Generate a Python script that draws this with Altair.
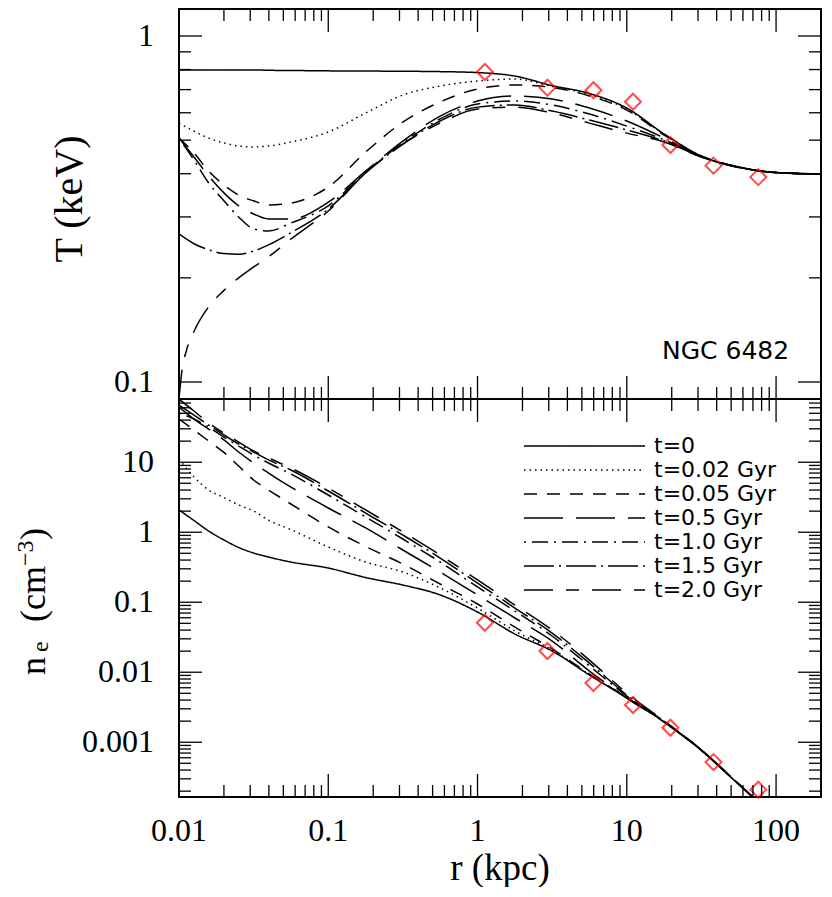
import altair as alt
import pandas as pd

labels = ["t=0", "t=0.02 Gyr", "t=0.05 Gyr", "t=0.5 Gyr", "t=1.0 Gyr", "t=1.5 Gyr", "t=2.0 Gyr"]

# radius grids (kpc)
r_grid = [0.01, 0.0126, 0.0158, 0.02, 0.0251, 0.0316, 0.0398, 0.0562, 0.1, 0.178, 0.316, 0.562,
          1.0, 1.78, 3.16, 5.62, 10.0, 17.8, 31.6, 56.2, 100.0, 200.0]
r_grid_t20 = [0.01, 0.0105, 0.0112, 0.0126, 0.0158, 0.02, 0.0251, 0.0316, 0.0398, 0.0562, 0.1, 0.178, 0.316,
              0.562, 1.0, 1.78, 3.16, 5.62, 10.0, 17.8, 31.6, 56.2, 100.0, 200.0]
r_grid_n = [0.01, 0.0126, 0.0158, 0.02, 0.0251, 0.0316, 0.0398, 0.0562, 0.1, 0.178, 0.316, 0.562,
            1.0, 1.78, 3.16, 5.62, 10.0, 17.8, 31.6, 56.2, 100.0]

# temperature profiles (keV)
T_t0 = [0.798, 0.798, 0.798, 0.798, 0.798, 0.798, 0.796, 0.795, 0.793, 0.792, 0.791, 0.789, 0.784, 0.766,
        0.719, 0.682, 0.619, 0.521, 0.45, 0.418, 0.403, 0.399]
T_t002 = [0.56, 0.531, 0.507, 0.491, 0.481, 0.478, 0.481, 0.494, 0.528, 0.599, 0.675, 0.717, 0.741, 0.751,
          0.715, 0.678, 0.615, 0.519, 0.45, 0.418, 0.403, 0.399]
T_t005 = [0.507, 0.459, 0.407, 0.371, 0.347, 0.334, 0.325, 0.329, 0.366, 0.462, 0.564, 0.645, 0.703, 0.722,
          0.71, 0.671, 0.611, 0.517, 0.45, 0.418, 0.403, 0.399]
T_t05 = [0.507, 0.447, 0.394, 0.352, 0.323, 0.306, 0.296, 0.296, 0.331, 0.407, 0.497, 0.587, 0.649, 0.671,
         0.658, 0.619, 0.568, 0.507, 0.448, 0.418, 0.403, 0.399]
T_t10 = [0.507, 0.438, 0.376, 0.334, 0.3, 0.277, 0.273, 0.288, 0.323, 0.405, 0.491, 0.576, 0.636, 0.649,
         0.632, 0.595, 0.549, 0.501, 0.447, 0.417, 0.403, 0.399]
T_t15 = [0.268, 0.251, 0.241, 0.235, 0.234, 0.239, 0.249, 0.27, 0.316, 0.402, 0.487, 0.568, 0.623, 0.632,
         0.607, 0.572, 0.535, 0.497, 0.447, 0.417, 0.403, 0.399]
T_t20 = [0.0895, 0.109, 0.123, 0.14, 0.165, 0.184, 0.2, 0.215, 0.23, 0.259, 0.312, 0.402, 0.487, 0.56,
         0.615, 0.623, 0.599, 0.56, 0.524, 0.494, 0.447, 0.417, 0.403, 0.399]

# electron density profiles (cm^-3)
n_t0 = [2.08, 1.47, 1.04, 0.774, 0.605, 0.505, 0.442, 0.375, 0.308, 0.225, 0.176, 0.127, 0.0724, 0.0351,
        0.0201, 0.00912, 0.00428, 0.00194, 0.000761, 0.000249, 8.26e-05]
n_t002 = [11.1, 6.15, 4.01, 3.13, 2.45, 2.01, 1.49, 1.09, 0.615, 0.375, 0.27, 0.16, 0.0826, 0.0388,
          0.0208, 0.00927, 0.00435, 0.00198, 0.000774, 0.000253, 8.26e-05]
n_t005 = [41.4, 28.8, 20.1, 13.8, 8.82, 5.57, 4.01, 2.53, 1.19, 0.625, 0.351, 0.182, 0.0943, 0.0442,
          0.0215, 0.00943, 0.00435, 0.00198, 0.000774, 0.000253, 8.26e-05]
n_t05 = [61.5, 41.4, 29.8, 20.8, 14.0, 9.74, 7.01, 4.42, 2.22, 1.15, 0.557, 0.27, 0.127, 0.0595,
         0.0279, 0.0104, 0.00428, 0.00194, 0.000761, 0.000249, 8.26e-05]
n_t10 = [50.4, 41.4, 31.8, 22.9, 17.0, 12.7, 9.74, 6.78, 3.4, 1.65, 0.8, 0.375, 0.165, 0.0749,
         0.0329, 0.0123, 0.00457, 0.00198, 0.000774, 0.000253, 8.26e-05]
n_t15 = [65.6, 47.2, 34.0, 24.5, 18.2, 14.0, 10.8, 7.74, 3.88, 1.88, 0.912, 0.428, 0.188, 0.0826,
         0.0363, 0.0135, 0.00472, 0.00198, 0.000774, 0.000253, 8.26e-05]
n_t20 = [79.5, 53.9, 36.3, 26.1, 19.4, 14.5, 11.5, 8.26, 4.28, 2.08, 1.01, 0.472, 0.208, 0.0912,
         0.0401, 0.0149, 0.00504, 0.00201, 0.000774, 0.000253, 8.26e-05]

# observations (red diamonds)
obs_r = [1.12, 2.94, 5.98, 11.0, 19.6, 38.1, 76.0]
obs_T = [0.787, 0.709, 0.697, 0.646, 0.484, 0.422, 0.391]
obs_n = [0.0509, 0.0201, 0.00701, 0.0034, 0.00161, 0.000521, 0.00021]

# axis ticks and labels
x_labels = [0.01, 0.1, 1, 10, 100]
x_label_text = ["0.01", "0.1", "1", "10", "100"]
x_minor = [0.02, 0.03, 0.04, 0.05, 0.06, 0.07, 0.08, 0.09, 0.2, 0.3, 0.4, 0.5, 0.6, 0.7, 0.8, 0.9,
           2, 3, 4, 5, 6, 7, 8, 9, 20, 30, 40, 50, 60, 70, 80, 90]
x_major = [0.1, 1, 10, 100]
T_minor = [0.2, 0.3, 0.4, 0.5, 0.6, 0.7, 0.8, 0.9]
T_major = [0.1, 1]
T_label_text = ["0.1", "1"]
n_minor = [0.0002, 0.0003, 0.0004, 0.0005, 0.0006, 0.0007, 0.0008, 0.0009,
           0.002, 0.003, 0.004, 0.005, 0.006, 0.007, 0.008, 0.009,
           0.02, 0.03, 0.04, 0.05, 0.06, 0.07, 0.08, 0.09,
           0.2, 0.3, 0.4, 0.5, 0.6, 0.7, 0.8, 0.9,
           2, 3, 4, 5, 6, 7, 8, 9, 20, 30, 40, 50, 60, 70, 80]
n_major = [0.001, 0.01, 0.1, 1, 10]
n_label_text = ["0.001", "0.01", "0.1", "1", "10"]

T_series = [T_t0, T_t002, T_t005, T_t05, T_t10, T_t15, T_t20]
n_series = [n_t0, n_t002, n_t005, n_t05, n_t10, n_t15, n_t20]

W = 642
H_TOP = 390
H_BOT = 398
Y0 = H_TOP            # top of the density panel inside the single view
H = H_TOP + H_BOT
SERIF = "Liberation Serif"
SANS = "DejaVu Sans"

xscale = alt.Scale(type="log", domain=[0.01, 200])
tscale = alt.Scale(type="log", domain=[0.0893, 1.197], range=[H_TOP, 0])
nscale = alt.Scale(type="log", domain=[0.000165, 80], range=[H, Y0])

dash_range = [[1, 0], [1.5, 4], [13, 10], [39, 13], [2, 6, 16, 6], [30, 5, 2, 5], [29, 13, 13, 13]]
dash = alt.StrokeDash("label:N", scale=alt.Scale(domain=labels, range=dash_range), legend=None)

rows_T = []
for lab, vals in zip(labels, T_series):
    rs = r_grid_t20 if lab == "t=2.0 Gyr" else r_grid
    for r, v in zip(rs, vals):
        rows_T.append({"label": lab, "r": r, "T": v})
df_T = pd.DataFrame(rows_T)
rows_n = []
for lab, vals in zip(labels, n_series):
    for r, v in zip(r_grid_n, vals):
        rows_n.append({"label": lab, "r": r, "n": v})
df_n = pd.DataFrame(rows_n)
df_obs = pd.DataFrame({"r": obs_r, "T": obs_T, "n": obs_n})


def tick_layers(yscale, y0, h, y_minor, y_major):
    layers = []
    for vals, L in ((x_minor, 12), (x_major, 23)):
        base = alt.Chart(pd.DataFrame({"v": vals})).mark_rule(color="black", strokeWidth=1.3)
        layers.append(base.encode(x=alt.X("v:Q", scale=xscale, axis=None), y=alt.value(y0), y2=alt.value(y0 + L)))
        layers.append(base.encode(x=alt.X("v:Q", scale=xscale, axis=None), y=alt.value(y0 + h), y2=alt.value(y0 + h - L)))
    for vals, L in ((y_minor, 12), (y_major, 23)):
        base = alt.Chart(pd.DataFrame({"v": vals})).mark_rule(color="black", strokeWidth=1.3)
        layers.append(base.encode(y=alt.Y("v:Q", scale=yscale, axis=None), x=alt.value(0), x2=alt.value(L)))
        layers.append(base.encode(y=alt.Y("v:Q", scale=yscale, axis=None), x=alt.value(W), x2=alt.value(W - L)))
    return layers


def ylabels(vals, texts, yscale):
    return alt.Chart(pd.DataFrame({"v": vals, "t": texts})).mark_text(
        font=SERIF, fontSize=32, align="right", baseline="middle", color="black"
    ).encode(y=alt.Y("v:Q", scale=yscale, axis=None), x=alt.value(-25), text="t:N")


def note(text, x, y, size, font=SERIF, angle=0, align="center", baseline="middle"):
    return alt.Chart(pd.DataFrame({"t": [text]})).mark_text(
        font=font, fontSize=size, align=align, baseline=baseline, angle=angle, color="black"
    ).encode(x=alt.value(x), y=alt.value(y), text="t:N")


# ---------------- upper panel: temperature ----------------
top_lines = alt.Chart(df_T).mark_line(clip=True, color="black", strokeWidth=1.5, interpolate="monotone").encode(
    x=alt.X("r:Q", scale=xscale, axis=None),
    y=alt.Y("T:Q", scale=tscale, axis=None),
    strokeDash=dash,
)
top_pts = alt.Chart(df_obs).mark_point(shape="diamond", filled=False, color="#ff0000", size=256, strokeWidth=2).encode(
    x=alt.X("r:Q", scale=xscale, axis=None),
    y=alt.Y("T:Q", scale=tscale, axis=None),
)
top = alt.layer(
    top_lines, top_pts,
    ylabels(T_major, T_label_text, tscale),
    note("T (keV)", -97, 190, 40, angle=270, baseline="alphabetic"),
    note("NGC 6482", 483, 350, 25, font=SANS, align="left", baseline="alphabetic"),
    *tick_layers(tscale, 0, H_TOP, T_minor, T_major),
)

# ---------------- lower panel: density ----------------
bot_lines = alt.Chart(df_n).mark_line(clip=True, color="black", strokeWidth=1.5, interpolate="monotone").encode(
    x=alt.X("r:Q", scale=xscale, axis=None),
    y=alt.Y("n:Q", scale=nscale, axis=None),
    strokeDash=dash,
)
bot_pts = alt.Chart(df_obs).mark_point(shape="diamond", filled=False, color="#ff0000", size=256, strokeWidth=2).encode(
    x=alt.X("r:Q", scale=xscale, axis=None),
    y=alt.Y("n:Q", scale=nscale, axis=None),
)
xlabels = alt.Chart(pd.DataFrame({"v": x_labels, "t": x_label_text})).mark_text(
    font=SERIF, fontSize=32, align="center", baseline="middle", color="black"
).encode(x=alt.X("v:Q", scale=xscale, axis=None), y=alt.value(H + 34), text="t:N")

divider = alt.Chart(pd.DataFrame({"a": [0]})).mark_rule(color="black", strokeWidth=2).encode(
    x=alt.value(0), x2=alt.value(W), y=alt.value(Y0)
)

bottom = alt.layer(
    bot_lines, bot_pts, xlabels, divider,
    ylabels(n_major, n_label_text, nscale),
    note("r (kpc)", W / 2, H + 83, 37, baseline="alphabetic"),
    note("n", -134, 666, 36, angle=270, align="left", baseline="alphabetic"),
    note("e", -131, 643, 24, angle=270, align="left", baseline="alphabetic"),
    note("(cm", -134, 613, 36, angle=270, align="left", baseline="alphabetic"),
    note("\u22123", -146, 557, 24, angle=270, align="left", baseline="alphabetic"),
    note(")", -134, 531, 36, angle=270, align="left", baseline="alphabetic"),
    *tick_layers(nscale, Y0, H_BOT, n_minor, n_major),
)

# ---------------- legend (inside lower panel) ----------------
df_leg = pd.DataFrame({"label": labels})
rowscale = alt.Scale(type="point", domain=labels, range=[Y0 + 35, Y0 + 203])
leg_rules = alt.Chart(df_leg).mark_rule(color="black", strokeWidth=1.5).encode(
    x=alt.value(345), x2=alt.value(466),
    y=alt.Y("label:N", scale=rowscale, axis=None),
    strokeDash=dash,
)
leg_text = alt.Chart(df_leg).mark_text(align="left", baseline="middle", font=SANS, fontSize=22, color="black").encode(
    x=alt.value(475),
    y=alt.Y("label:N", scale=rowscale, axis=None),
    text="label:N",
)
legend = alt.layer(leg_rules, leg_text)

chart = alt.layer(top, bottom, legend).resolve_scale(y="independent").properties(
    width=W, height=H, padding={"left": 6, "top": 0, "right": 0, "bottom": 0}
).configure_view(stroke="black", strokeWidth=2)

chart.save("out.html", embed_options={"renderer": "svg", "actions": False})
